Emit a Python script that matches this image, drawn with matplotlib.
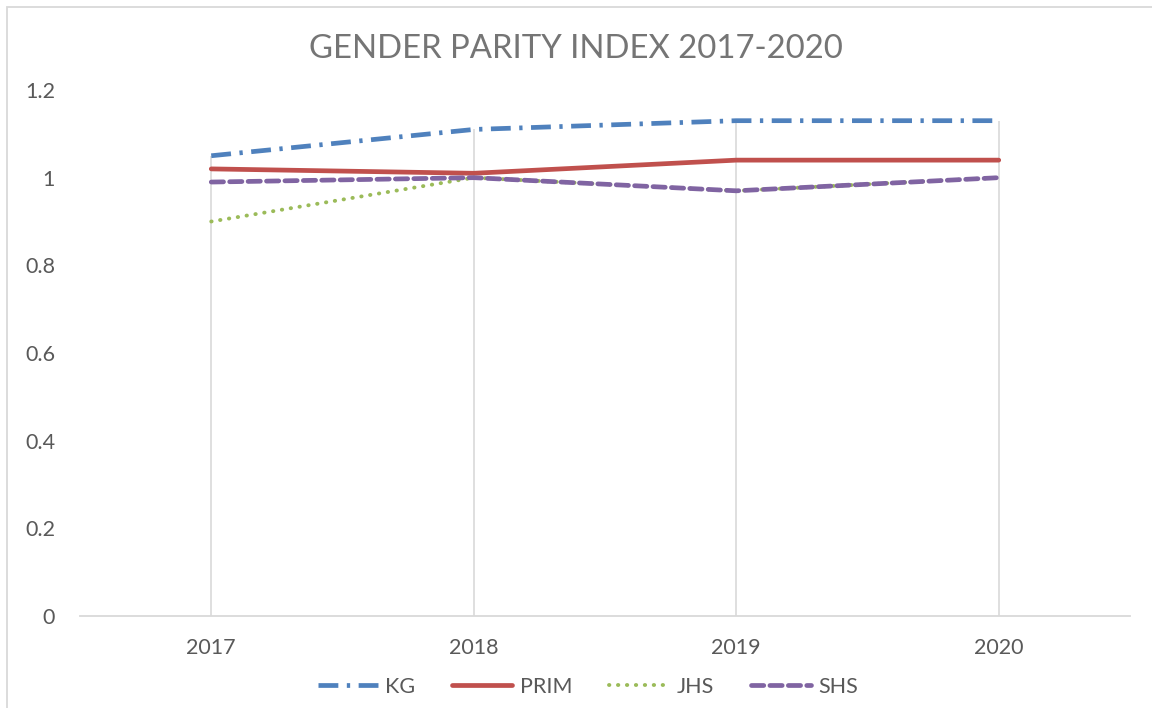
import matplotlib
matplotlib.use("Agg")
import matplotlib.pyplot as plt
from matplotlib.patches import Rectangle

years = ["2017", "2018", "2019", "2020"]
kg = [1.05, 1.11, 1.13, 1.13]
prim = [1.02, 1.01, 1.04, 1.04]
jhs = [0.90, 1.00, 0.97, 1.00]
shs = [0.99, 1.00, 0.97, 1.00]

plt.rcParams['font.family'] = ['Lato', 'DejaVu Sans']
grey = '#595959'

fig = plt.figure(figsize=(11.52, 7.08), dpi=100)
ax = fig.add_axes([80/1152, 1 - 616/708, 1050/1152, 526/708])

x = list(range(len(years)))

# drop lines from the highest point of each year down to the axis
tops = [max(v) for v in zip(kg, prim, jhs, shs)]
ax.vlines(x, 0, tops, color='#D9D9D9', lw=1.2, zorder=1)

ax.plot(x, kg, color='#4F81BD', lw=3.4, dashes=(4.2, 1.8, 0.7, 1.8), label='KG', zorder=3)
ax.plot(x, prim, color='#C0504D', lw=3.4, solid_capstyle='round', label='PRIM', zorder=3)
ax.plot(x, jhs, color='#9BBB59', lw=2.8, linestyle=(0, (0.1, 2.2)), dash_capstyle='round', label='JHS', zorder=3)
ax.plot(x, shs, color='#8064A2', lw=3.4, dashes=(2.6, 1.3), dash_capstyle='round', label='SHS', zorder=4)

ax.set_xlim(-0.5, 3.5)
ax.set_ylim(0, 1.2)
ax.set_xticks(x)
ax.set_xticklabels(years)
ax.set_yticks([0, 0.2, 0.4, 0.6, 0.8, 1.0, 1.2])
ax.set_yticklabels(['0', '0.2', '0.4', '0.6', '0.8', '1', '1.2'])
ax.tick_params(length=0, labelsize=15.5, colors=grey)
ax.tick_params(axis='y', pad=18)
ax.tick_params(axis='x', pad=16)

for s in ['top', 'right', 'left']:
    ax.spines[s].set_visible(False)
ax.spines['bottom'].set_color('#D9D9D9')
ax.spines['bottom'].set_linewidth(1.3)

fig.text(0.5, 1 - 49/708, 'GENDER PARITY INDEX 2017-2020', ha='center', va='center',
         fontsize=23.7, color='#757575')

fig.legend(loc='center', bbox_to_anchor=(588/1152, 1 - 687/708), ncol=4, frameon=False,
           fontsize=15.5, labelcolor=grey, handlelength=2.8, columnspacing=1.7,
           handletextpad=0.35)

# chart area border
fig.patches.append(Rectangle((7/1152, -0.1), 1.2, 1.1 - 7/708, transform=fig.transFigure,
                             fill=False, edgecolor='#D9D9D9', lw=1.3))

fig.savefig('out.png', dpi=100)
